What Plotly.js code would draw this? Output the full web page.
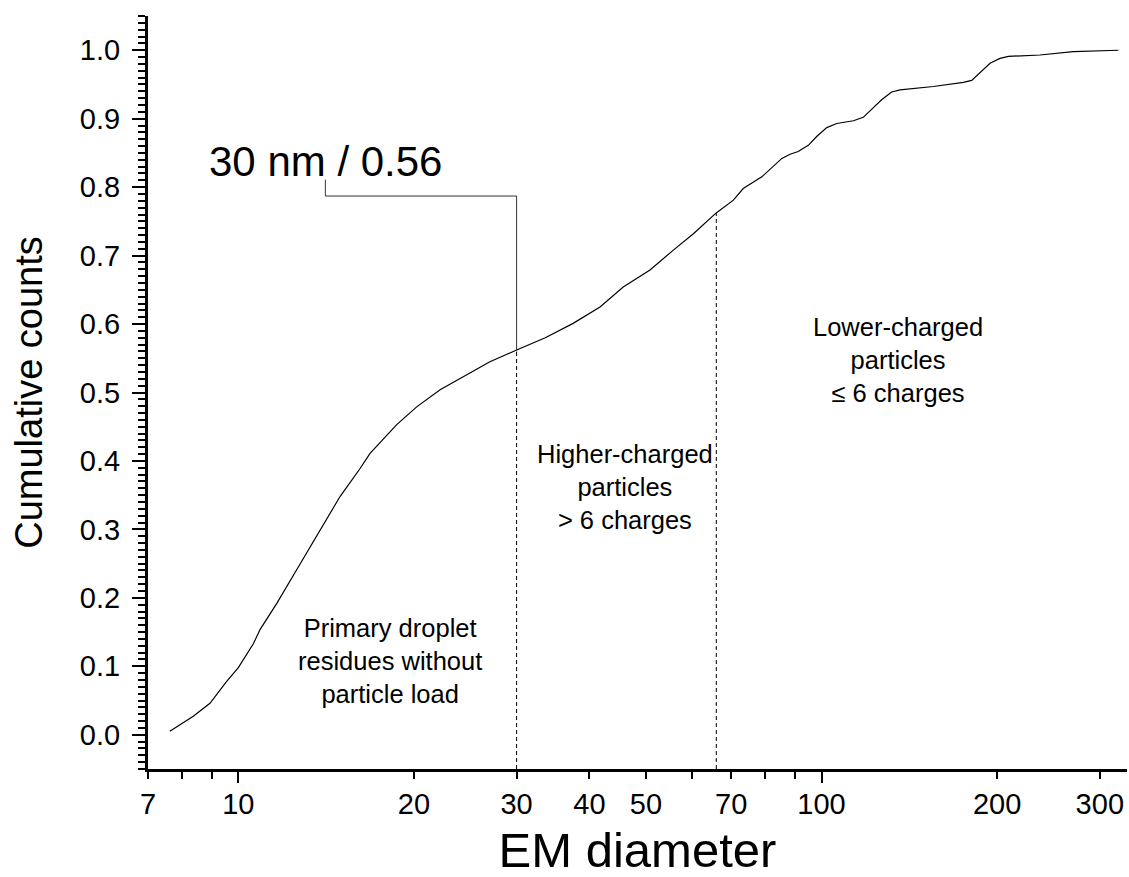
<!DOCTYPE html>
<html>
<head>
<meta charset="utf-8">
<script src="https://cdn.plot.ly/plotly-3.0.1.min.js"></script>
<style>html,body{margin:0;padding:0;background:#fff;}#chart{width:1129px;height:877px;}</style>
</head>
<body>
<div id="chart"></div>
<script>
// ---- data ----
const diameter = [7.63, 8.37, 8.94, 9.55, 10.0, 10.61, 10.90, 11.64, 12.59, 13.63, 14.94, 16.17, 16.82, 18.69, 20.22, 22.18, 24.31, 27.0, 30.0, 33.6, 37.5, 41.7, 45.7, 50.8, 55.7, 60.3, 65.9, 70.6, 73.4, 79.0, 85.5, 88.3, 91.2, 94.9, 98.1, 102.1, 106.2, 113.4, 117.9, 126.9, 131.9, 136.3, 155.5, 175.0, 180.9, 194.5, 202.3, 209.1, 236.9, 270.2, 322.8];
const cumulative = [0.005, 0.027, 0.046, 0.078, 0.098, 0.133, 0.154, 0.192, 0.241, 0.290, 0.348, 0.389, 0.411, 0.453, 0.479, 0.504, 0.523, 0.545, 0.562, 0.580, 0.601, 0.625, 0.654, 0.679, 0.708, 0.732, 0.762, 0.781, 0.798, 0.815, 0.842, 0.848, 0.852, 0.861, 0.874, 0.887, 0.893, 0.897, 0.902, 0.928, 0.939, 0.942, 0.947, 0.953, 0.956, 0.981, 0.988, 0.991, 0.993, 0.998, 1.000];

const xTickVals = [7, 10, 20, 30, 40, 50, 70, 100, 200, 300];
const xTickText = ['7', '10', '20', '30', '40', '50', '70', '100', '200', '300'];
const xMinorVals = [8, 9, 60, 80, 90];
const xDecadeVals = [10, 100];
const yTickVals = [0, 0.1, 0.2, 0.3, 0.4, 0.5, 0.6, 0.7, 0.8, 0.9, 1.0];

const markDiameter = 30;      // nm
const markValue = 0.56;
const boundaryDiameter = 66;  // nm
const boundaryValue = 0.762;
const calloutDiameter = 14.1;
const calloutCorner = 0.787;
const calloutTop = 0.811;

const regionLabels = [
  {text: 'Primary droplet<br>residues without<br>particle load', d: 18.2, v: 0.108},
  {text: 'Higher-charged<br>particles<br>> 6 charges', d: 46.0, v: 0.362},
  {text: 'Lower-charged<br>particles<br>≤ 6 charges', d: 135, v: 0.547}
];
const calloutLabel = {text: '30 nm / 0.56', d: 14.1, v: 0.838};

const xRange = [Math.log10(7), Math.log10(334)];
const yRange = [-0.05, 1.05];
const FONT = '"Liberation Sans", Arial, Helvetica, sans-serif';

const traces = [
  {x: diameter, y: cumulative, type: 'scatter', mode: 'lines',
   line: {color: '#000', width: 1.2}, hoverinfo: 'skip', showlegend: false},
  {x: [calloutDiameter, calloutDiameter, markDiameter, markDiameter],
   y: [calloutTop, calloutCorner, calloutCorner, markValue],
   type: 'scatter', mode: 'lines', line: {color: '#333', width: 1},
   showlegend: false, hoverinfo: 'skip'},
  {x: [markDiameter, markDiameter, null, boundaryDiameter, boundaryDiameter],
   y: [yRange[0], markValue, null, yRange[0], boundaryValue],
   type: 'scatter', mode: 'lines', xaxis: 'x2',
   line: {color: '#000', width: 1, dash: '4px,3px'},
   showlegend: false, hoverinfo: 'skip'}
];

const annotations = regionLabels.map(r => ({
  text: r.text, x: Math.log10(r.d), y: r.v, xref: 'x', yref: 'y',
  showarrow: false, align: 'center', font: {family: FONT, size: 25.5, color: '#000'}
}));
annotations.push({
  text: calloutLabel.text, x: Math.log10(calloutLabel.d), y: calloutLabel.v,
  xref: 'x', yref: 'y', showarrow: false, font: {family: FONT, size: 42, color: '#000'}
});

const layout = {
  width: 1129, height: 877,
  margin: {l: 148, r: 2, t: 16, b: 108},
  paper_bgcolor: '#fff', plot_bgcolor: '#fff',
  font: {family: FONT, color: '#000'},
  showlegend: false,
  xaxis: {
    type: 'log', range: xRange, showgrid: false, zeroline: false,
    showline: true, linecolor: '#000', linewidth: 3,
    tickmode: 'array', tickvals: xTickVals, ticktext: xTickText,
    ticks: 'outside', ticklen: 7, tickwidth: 2, tickcolor: '#000',
    tickfont: {family: FONT, size: 29, color: '#000'},
    minor: {tickmode: 'array', tickvals: xMinorVals, ticks: 'outside', ticklen: 7, tickwidth: 2, tickcolor: '#000', showgrid: false},
    title: {text: 'EM diameter', font: {family: FONT, size: 49, color: '#000'}, standoff: 14},
    fixedrange: true
  },
  xaxis2: {
    type: 'log', range: xRange, overlaying: 'x', anchor: 'y', side: 'bottom',
    showgrid: false, zeroline: false, showline: false,
    tickmode: 'array', tickvals: xDecadeVals, showticklabels: false,
    ticks: 'outside', ticklen: 13, tickwidth: 2, tickcolor: '#000', fixedrange: true
  },
  yaxis: {
    range: yRange, showgrid: false, zeroline: false,
    showline: true, linecolor: '#000', linewidth: 3,
    tickmode: 'array', tickvals: yTickVals, tickformat: '.1f',
    ticks: 'outside', ticklen: 13, tickwidth: 2, tickcolor: '#000',
    ticklabelstandoff: 6,
    tickfont: {family: FONT, size: 29, color: '#000'},
    minor: {dtick: 0.01, tick0: 0, ticks: 'outside', ticklen: 7, tickwidth: 2, tickcolor: '#000', showgrid: false},
    title: {text: 'Cumulative counts', font: {family: FONT, size: 38, color: '#000'}, standoff: 26},
    fixedrange: true
  },
  annotations: annotations
};

Plotly.newPlot('chart', traces, layout, {staticPlot: true, displayModeBar: false});
</script>
</body>
</html>
